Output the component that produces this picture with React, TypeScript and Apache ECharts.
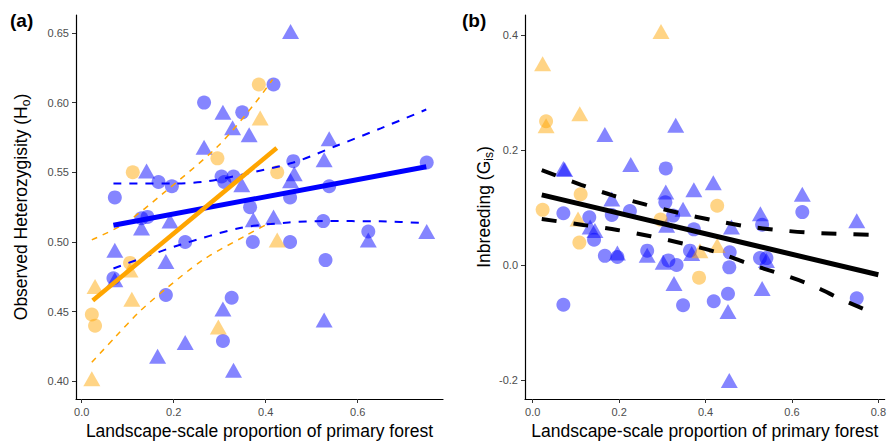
import React, { useEffect, useRef } from "react";
import * as echarts from "echarts";

// ---------- Panel (a): Observed heterozygosity ----------
const aXTicks = [0, 0.2, 0.4, 0.6];
const aYTicks = [0.4, 0.45, 0.5, 0.55, 0.6, 0.65];

const aBlueCircles = [
  [0.417, 0.613], [0.266, 0.6], [0.349, 0.593], [0.46, 0.558], [0.75, 0.557],
  [0.167, 0.543], [0.196, 0.54], [0.304, 0.547], [0.33, 0.547], [0.31, 0.543],
  [0.072, 0.532], [0.538, 0.54], [0.453, 0.532], [0.366, 0.525], [0.143, 0.518],
  [0.13, 0.517], [0.225, 0.5], [0.372, 0.5], [0.453, 0.5], [0.525, 0.515],
  [0.623, 0.5075], [0.53, 0.487], [0.069, 0.474], [0.183, 0.462], [0.326, 0.46],
  [0.307, 0.429],
];
const aBlueTriangles = [
  [0.454, 0.651], [0.307, 0.593], [0.328, 0.582], [0.364, 0.577], [0.266, 0.568],
  [0.538, 0.574], [0.527, 0.559], [0.141, 0.551], [0.348, 0.541], [0.454, 0.544],
  [0.462, 0.549], [0.373, 0.516], [0.417, 0.518], [0.13, 0.51], [0.192, 0.515],
  [0.623, 0.5015], [0.75, 0.5075], [0.072, 0.494], [0.183, 0.486], [0.072, 0.473],
  [0.307, 0.452], [0.527, 0.444], [0.165, 0.418], [0.225, 0.428], [0.33, 0.408],
];
const aOrangeCircles = [
  [0.385, 0.613], [0.295, 0.56], [0.111, 0.55], [0.425, 0.55], [0.105, 0.485],
  [0.022, 0.448], [0.029, 0.44],
];
const aOrangeTriangles = [
  [0.388, 0.589], [0.425, 0.5015], [0.105, 0.48], [0.029, 0.468], [0.109, 0.459],
  [0.297, 0.439], [0.022, 0.402],
];
const aBlueFit = [[0.069, 0.512], [0.749, 0.554]];
const aBlueUpper = [
  [0.069, 0.542], [0.2, 0.542], [0.272, 0.5435], [0.344, 0.548], [0.46, 0.557],
  [0.554, 0.569], [0.65, 0.5815], [0.749, 0.595],
];
const aBlueLower = [
  [0.069, 0.481], [0.127, 0.488], [0.214, 0.498], [0.344, 0.51], [0.45, 0.514],
  [0.525, 0.515], [0.65, 0.5148], [0.749, 0.5135],
];
const aOrangeFit = [[0.024, 0.458], [0.424, 0.5674]];
const aOrangeUpper = [
  [0.022, 0.5015], [0.094, 0.5134], [0.1775, 0.535], [0.297, 0.569], [0.373, 0.598],
  [0.415, 0.6165],
];
const aOrangeLower = [
  [0.022, 0.4137], [0.072, 0.4315], [0.127, 0.4505], [0.185, 0.467], [0.264, 0.4872],
  [0.359, 0.505], [0.41, 0.514],
];

// ---------- Panel (b): Inbreeding ----------
const bXTicks = [0, 0.2, 0.4, 0.6, 0.8];
const bYTicks = [-0.2, 0, 0.2, 0.4];

const bBlueCircles = [
  [0.308, 0.168], [0.307, 0.109], [0.071, 0.09], [0.131, 0.083], [0.142, 0.044],
  [0.183, 0.087], [0.225, 0.094], [0.167, 0.016], [0.196, 0.014], [0.265, 0.025],
  [0.314, 0.008], [0.333, 0.0], [0.071, -0.069], [0.348, -0.07], [0.325, 0.086],
  [0.373, 0.062], [0.364, 0.025], [0.456, 0.022], [0.455, -0.004], [0.452, -0.05],
  [0.419, -0.063], [0.624, 0.092], [0.531, 0.07], [0.526, 0.012], [0.541, 0.012],
  [0.75, -0.058],
];
const bBlueTriangles = [
  [0.071, 0.168], [0.074, 0.166], [0.167, 0.227], [0.331, 0.243], [0.227, 0.175],
  [0.308, 0.127], [0.373, 0.131], [0.418, 0.143], [0.183, 0.115], [0.133, 0.066],
  [0.144, 0.06], [0.196, 0.021], [0.265, 0.017], [0.302, 0.005], [0.348, 0.097],
  [0.31, 0.069], [0.368, 0.02], [0.327, -0.032], [0.46, 0.066], [0.452, -0.081],
  [0.455, -0.201], [0.624, 0.123], [0.527, 0.089], [0.541, 0.008], [0.531, -0.041],
  [0.75, 0.077],
];
const bOrangeCircles = [
  [0.031, 0.25], [0.111, 0.123], [0.023, 0.096], [0.108, 0.039], [0.296, 0.079],
  [0.427, 0.103], [0.385, -0.022],
];
const bOrangeTriangles = [
  [0.297, 0.406], [0.023, 0.35], [0.031, 0.242], [0.109, 0.263], [0.105, 0.08],
  [0.387, 0.025], [0.427, 0.034],
];
const bFit = [[0.021, 0.122], [0.8, -0.017]];
const bUpper = [
  [0.021, 0.165], [0.112, 0.1395], [0.185, 0.121], [0.262, 0.105], [0.339, 0.0905],
  [0.416, 0.078], [0.493, 0.0675], [0.572, 0.0605], [0.649, 0.056], [0.8, 0.0524],
];
const bLower = [
  [0.021, 0.08], [0.117, 0.0697], [0.196, 0.061], [0.273, 0.05], [0.35, 0.037],
  [0.425, 0.0225], [0.5, 0.002], [0.576, -0.016], [0.649, -0.036], [0.718, -0.061],
  [0.8, -0.087],
];

const FONT = "Liberation Sans";
const BLUE = "rgba(0,0,255,0.6)";
const ORANGE = "rgba(255,165,0,0.6)";

function makeAxis(
  gridIndex: number,
  min: number,
  max: number,
  ticks: number[],
  decimals: number,
  name: string,
  nameGap: number,
  rich?: any
) {
  return {
    type: "value",
    gridIndex,
    min,
    max,
    name,
    nameLocation: "middle",
    nameGap,
    nameTextStyle: { fontSize: 17.5, color: "#000", fontFamily: FONT, rich },
    axisLine: { show: true, onZero: false, lineStyle: { color: "#000", width: 1.2 } },
    axisTick: {
      show: true,
      inside: false,
      length: 4,
      customValues: ticks,
      lineStyle: { color: "#333", width: 1 },
    },
    axisLabel: {
      show: true,
      customValues: ticks,
      formatter: (v: number) => v.toFixed(decimals),
      color: "#4d4d4d",
      fontSize: 11,
      fontFamily: FONT,
      margin: 7,
    },
    splitLine: { show: false },
  };
}

function scatter(idx: number, data: number[][], color: string, tri: boolean) {
  return {
    type: "scatter",
    xAxisIndex: idx,
    yAxisIndex: idx,
    data,
    symbol: tri ? "triangle" : "circle",
    symbolSize: tri ? [17, 15] : 14,
    itemStyle: { color },
    z: 2,
    silent: true,
  };
}

function line(idx: number, data: number[][], color: string, width: number, dash?: number[]) {
  return {
    type: "line",
    xAxisIndex: idx,
    yAxisIndex: idx,
    data,
    showSymbol: false,
    symbol: "none",
    smooth: dash ? 0.3 : false,
    lineStyle: { color, width, type: dash ? dash : "solid", cap: "butt" },
    z: 3,
    silent: true,
  };
}

export default function App() {
  const ref = useRef<HTMLDivElement>(null);
  useEffect(() => {
    document.body.style.margin = "0";
    if (!ref.current) return;
    const chart = echarts.init(ref.current, undefined, { renderer: "svg" });
    const subRich = {
      s: { fontSize: 12, fontFamily: FONT, color: "#000", padding: [10, 0, 0, 0] },
    };
    chart.setOption({
      animation: false,
      backgroundColor: "#fff",
      grid: [
        { left: 76, top: 15, width: 367, height: 387 },
        { left: 525, top: 15, width: 360, height: 386 },
      ],
      xAxis: [
        makeAxis(0, -0.0124, 0.7854, aXTicks, 1, "Landscape-scale proportion of primary forest", 23),
        makeAxis(1, -0.0178, 0.8146, bXTicks, 1, "Landscape-scale proportion of primary forest", 23),
      ],
      yAxis: [
        makeAxis(0, 0.3874, 0.6628, aYTicks, 2, "Observed Heterozygisity (H{s|o})", 44, subRich),
        makeAxis(1, -0.233, 0.4348, bYTicks, 1, "Inbreeding (G{s|is})", 28, subRich),
      ],
      graphic: [
        {
          type: "text",
          left: 10,
          top: 11,
          style: { text: "(a)", fontSize: 19, fontWeight: "bold", fontFamily: FONT, fill: "#000" },
        },
        {
          type: "text",
          left: 462,
          top: 11,
          style: { text: "(b)", fontSize: 19, fontWeight: "bold", fontFamily: FONT, fill: "#000" },
        },
      ],
      series: [
        scatter(0, aBlueCircles, BLUE, false),
        scatter(0, aBlueTriangles, BLUE, true),
        scatter(0, aOrangeCircles, ORANGE, false),
        scatter(0, aOrangeTriangles, ORANGE, true),
        line(0, aBlueUpper, "#0000ff", 2, [8, 8]),
        line(0, aBlueLower, "#0000ff", 2, [8, 8]),
        line(0, aOrangeUpper, "#ffa500", 1.5, [6, 6]),
        line(0, aOrangeLower, "#ffa500", 1.5, [6, 6]),
        line(0, aBlueFit, "#0000ff", 5),
        line(0, aOrangeFit, "#ffa500", 4.5),
        scatter(1, bBlueCircles, BLUE, false),
        scatter(1, bBlueTriangles, BLUE, true),
        scatter(1, bOrangeCircles, ORANGE, false),
        scatter(1, bOrangeTriangles, ORANGE, true),
        line(1, bUpper, "#000", 4, [15, 17]),
        line(1, bLower, "#000", 4, [15, 17]),
        line(1, bFit, "#000", 5),
      ],
    });
    return () => chart.dispose();
  }, []);
  return <div ref={ref} style={{ width: 889, height: 445 }} />;
}
